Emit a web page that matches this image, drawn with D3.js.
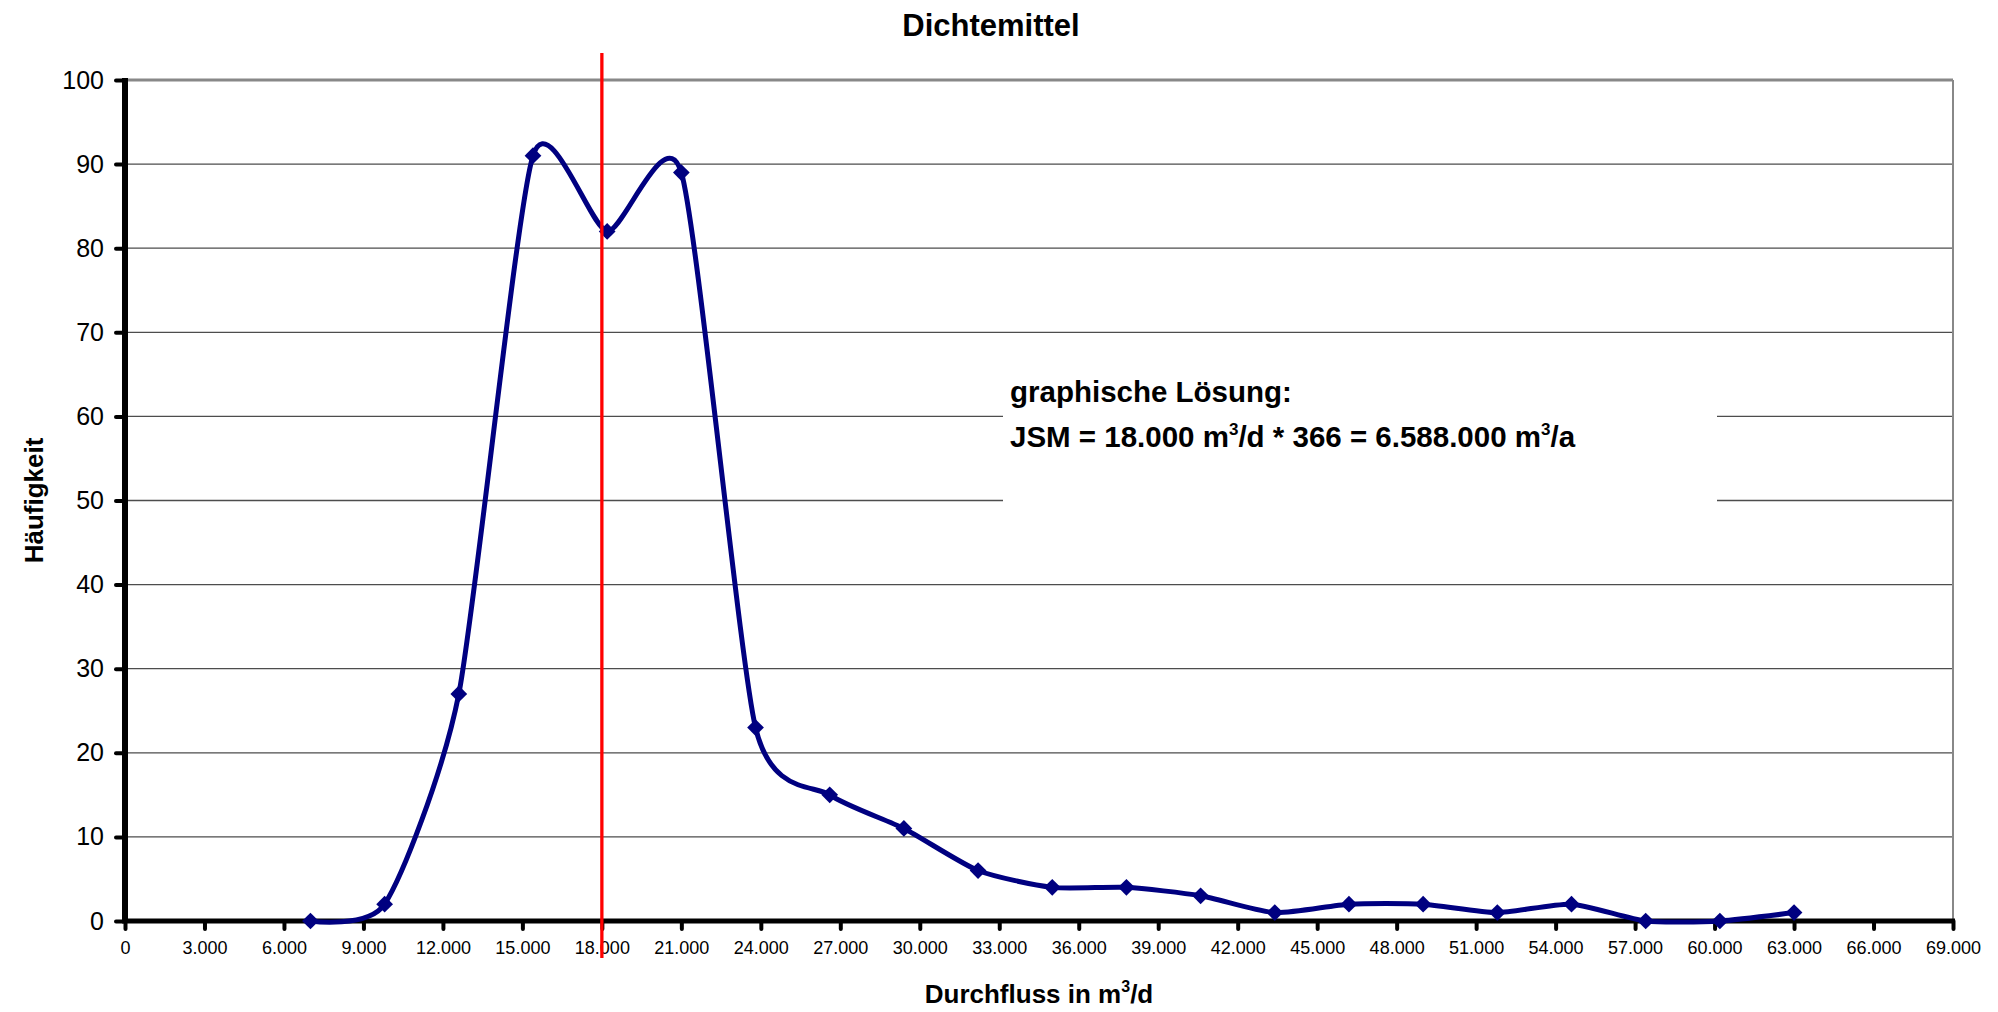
<!DOCTYPE html>
<html>
<head>
<meta charset="utf-8">
<script src="https://cdn.jsdelivr.net/npm/d3@7"></script>
<style>
  body { margin: 0; background: #fff; }
  text { font-family: "Liberation Sans", Arial, sans-serif; }
</style>
</head>
<body>
<div id="chart"></div>
<script>
// Durchfluss (m3/d) und Häufigkeit
const durchfluss = [7000, 9800, 12600, 15400, 18200, 21000, 23800, 26600, 29400, 32200, 35000,
                    37800, 40600, 43400, 46200, 49000, 51800, 54600, 57400, 60200, 63000];
const haeufigkeit = [0, 2, 27, 91, 82, 89, 23, 15, 11, 6, 4, 4, 3, 1, 2, 2, 1, 2, 0, 0, 1];
const xTicks = d3.range(0, 69001, 3000);
const yTicks = d3.range(0, 101, 10);
const mittelwert = 18000;

const width = 1998;
const height = 1012;
const margin = { top: 80, right: 45, bottom: 91, left: 125 };

const svg = d3.select("#chart")
    .append("svg")
    .attr("width", width)
    .attr("height", height);

const x = d3.scaleLinear().domain([0, 69000]).range([margin.left, width - margin.right]);
const y = d3.scaleLinear().domain([0, 100]).range([height - margin.bottom, margin.top]);

const de = d3.formatLocale({ decimal: ",", thousands: ".", grouping: [3], currency: ["", " €"] });
const fmt = de.format(",");

// gridlines
svg.append("g")
    .selectAll("line")
    .data(yTicks.filter(d => d > 0 && d < 100))
    .enter()
    .append("line")
    .attr("x1", x(0))
    .attr("x2", x(69000))
    .attr("y1", d => y(d))
    .attr("y2", d => y(d))
    .attr("stroke", "#4d4d4d")
    .attr("stroke-width", 1.3);

// plot border top / right
svg.append("line")
    .attr("x1", x(0)).attr("x2", x(69000))
    .attr("y1", y(100)).attr("y2", y(100))
    .attr("stroke", "#888").attr("stroke-width", 3);
svg.append("line")
    .attr("x1", x(69000)).attr("x2", x(69000))
    .attr("y1", y(100)).attr("y2", y(0))
    .attr("stroke", "#888").attr("stroke-width", 2);

// white box behind the annotation
svg.append("rect")
    .attr("x", 1003)
    .attr("y", 360)
    .attr("width", 714)
    .attr("height", 152)
    .attr("fill", "#fff");

// axes
const xAxis = svg.append("g")
    .attr("transform", "translate(0," + y(0) + ")")
    .call(d3.axisBottom(x).tickValues(xTicks).tickFormat(fmt).tickSize(8).tickPadding(12));
xAxis.select(".domain").remove();
xAxis.selectAll(".tick line").attr("stroke", "#000").attr("stroke-width", 4).attr("stroke-linecap", "round");
xAxis.selectAll(".tick text").attr("font-size", "18px").attr("fill", "#000")
    .attr("font-family", "'Liberation Sans', Arial, sans-serif");

const yAxis = svg.append("g")
    .attr("transform", "translate(" + x(0) + ",0)")
    .call(d3.axisLeft(y).tickValues(yTicks).tickSize(9).tickPadding(12));
yAxis.select(".domain").remove();
yAxis.selectAll(".tick line").attr("stroke", "#000").attr("stroke-width", 4).attr("stroke-linecap", "round");
yAxis.selectAll(".tick text").attr("font-size", "25px").attr("fill", "#000")
    .attr("font-family", "'Liberation Sans', Arial, sans-serif");

svg.append("line")
    .attr("x1", x(0)).attr("x2", x(0))
    .attr("y1", y(100) - 2).attr("y2", y(0) + 2)
    .attr("stroke", "#000").attr("stroke-width", 6);
svg.append("line")
    .attr("x1", x(0) - 3).attr("x2", x(69000) + 2)
    .attr("y1", y(0)).attr("y2", y(0))
    .attr("stroke", "#000").attr("stroke-width", 5);

// smoothed line (close to Excel's smoothing)
const points = durchfluss.map((d, i) => [d, haeufigkeit[i]]);
const line = d3.line()
    .x(d => x(d[0]))
    .y(d => y(d[1]))
    .curve(d3.curveCardinal.tension(0.35));

svg.append("path")
    .datum(points)
    .attr("d", line)
    .attr("fill", "none")
    .attr("stroke", "#000080")
    .attr("stroke-width", 5);

svg.append("g")
    .selectAll("path")
    .data(points)
    .enter()
    .append("path")
    .attr("d", d3.symbol().type(d3.symbolSquare).size(140))
    .attr("transform", d => "translate(" + x(d[0]) + "," + y(d[1]) + ") rotate(45)")
    .attr("fill", "#000080");

// red line at the graphic solution
svg.append("line")
    .attr("x1", x(mittelwert)).attr("x2", x(mittelwert))
    .attr("y1", 53).attr("y2", 958)
    .attr("stroke", "#ff0000")
    .attr("stroke-width", 3.3);

// titles
svg.append("text")
    .attr("x", 991).attr("y", 36)
    .attr("text-anchor", "middle")
    .attr("font-size", "31px").attr("font-weight", "bold")
    .text("Dichtemittel");

const xt = svg.append("text")
    .attr("x", (x(0) + x(69000)) / 2).attr("y", 1003)
    .attr("text-anchor", "middle")
    .attr("font-size", "26px").attr("font-weight", "bold");
xt.append("tspan").text("Durchfluss in m");
xt.append("tspan").attr("font-size", "16px").attr("dy", -11).text("3");
xt.append("tspan").attr("dy", 11).text("/d");

svg.append("text")
    .attr("transform", "translate(43," + (y(50)) + ") rotate(-90)")
    .attr("text-anchor", "middle")
    .attr("font-size", "26px").attr("font-weight", "bold")
    .text("Häufigkeit");

// annotation
const note = svg.append("g").attr("font-size", "29.5px").attr("font-weight", "bold");
note.append("text").attr("x", 1010).attr("y", 402).text("graphische Lösung:");
const l2 = note.append("text").attr("x", 1010).attr("y", 447);
l2.append("tspan").text("JSM = 18.000 m");
l2.append("tspan").attr("font-size", "17px").attr("dy", -12).text("3");
l2.append("tspan").attr("dy", 12).text("/d * " + d3.sum(haeufigkeit) + " = 6.588.000 m");
l2.append("tspan").attr("font-size", "17px").attr("dy", -12).text("3");
l2.append("tspan").attr("dy", 12).text("/a");
</script>
</body>
</html>
